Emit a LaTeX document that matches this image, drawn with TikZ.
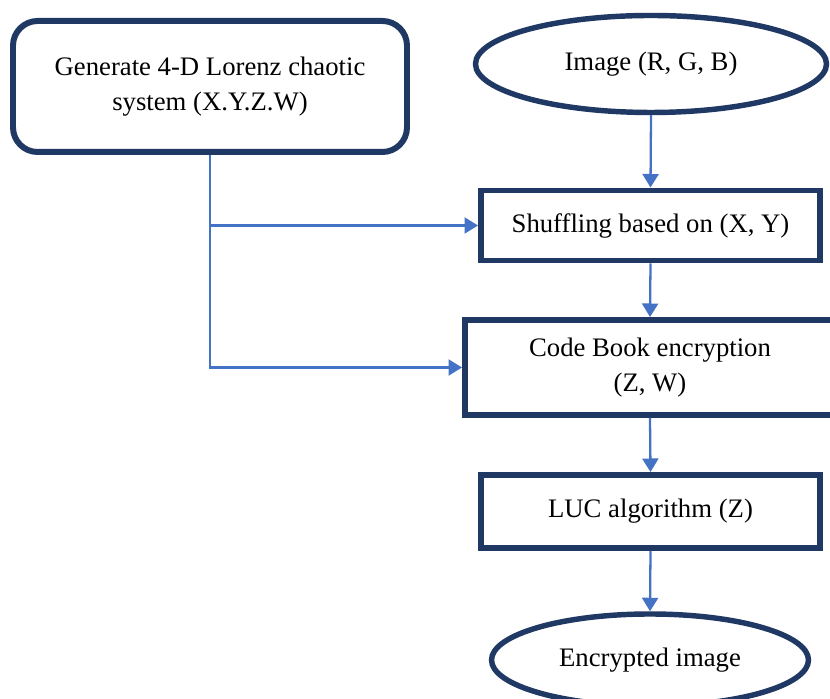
\documentclass[tikz,border=0pt]{standalone}
\usepackage{fontspec}
\setmainfont{Liberation Serif}
\usetikzlibrary{arrows.meta, shapes.geometric}
\definecolor{navy}{HTML}{203864}
\definecolor{flowblue}{HTML}{4472C4}

\begin{document}
\begin{tikzpicture}[
  >={Triangle[length=2.7mm, width=3.2mm]},
  box/.style={draw=navy, line width=3.4pt, fill=white, align=center,
    font=\fontsize{15.2}{19.5}\selectfont, inner sep=0pt},
  oval/.style={ellipse, draw=navy, line width=3.1pt, fill=white,
    font=\fontsize{15.2}{19.5}\selectfont, inner sep=0pt},
  flow/.style={flowblue, line width=1.3pt, ->}
]

% Canvas
\clip (0,0) rectangle (16.6,13.98);

% Key generation
\node[box, rounded corners=14pt, minimum width=7.88cm, minimum height=2.62cm] (lorenz) at (4.2,12.25)
  {Generate 4-D Lorenz chaotic\\system (X.Y.Z.W)};

% Input image
\node[oval, minimum width=7.02cm, minimum height=1.94cm] (image) at (13.02,12.7) {Image (R, G, B)};

% Encryption steps
\node[box, minimum width=6.78cm, minimum height=1.4cm] (shuffle) at (13.01,9.47) {Shuffling based on (X, Y)};
\node[box, minimum width=7.4cm, minimum height=1.9cm] (codebook) at (13.0,6.63) {Code Book encryption\\(Z, W)};
\node[box, minimum width=6.78cm, minimum height=1.46cm] (luc) at (13.01,3.75) {LUC algorithm (Z)};

% Output
\node[oval, minimum width=6.34cm, minimum height=1.84cm] (encrypted) at (13.0,0.78) {Encrypted image};

% Chaotic sequences to the steps
\draw[flow] (lorenz.south) |- (shuffle.west);
\draw[flow] (lorenz.south) |- (codebook.west);

% Main flow
\draw[flow] (image.south) -- (shuffle.north);
\draw[flow] (shuffle.south) -- (codebook.north);
\draw[flow] (codebook.south) -- (luc.north);
\draw[flow] (luc.south) -- (encrypted.north);

\end{tikzpicture}
\end{document}
